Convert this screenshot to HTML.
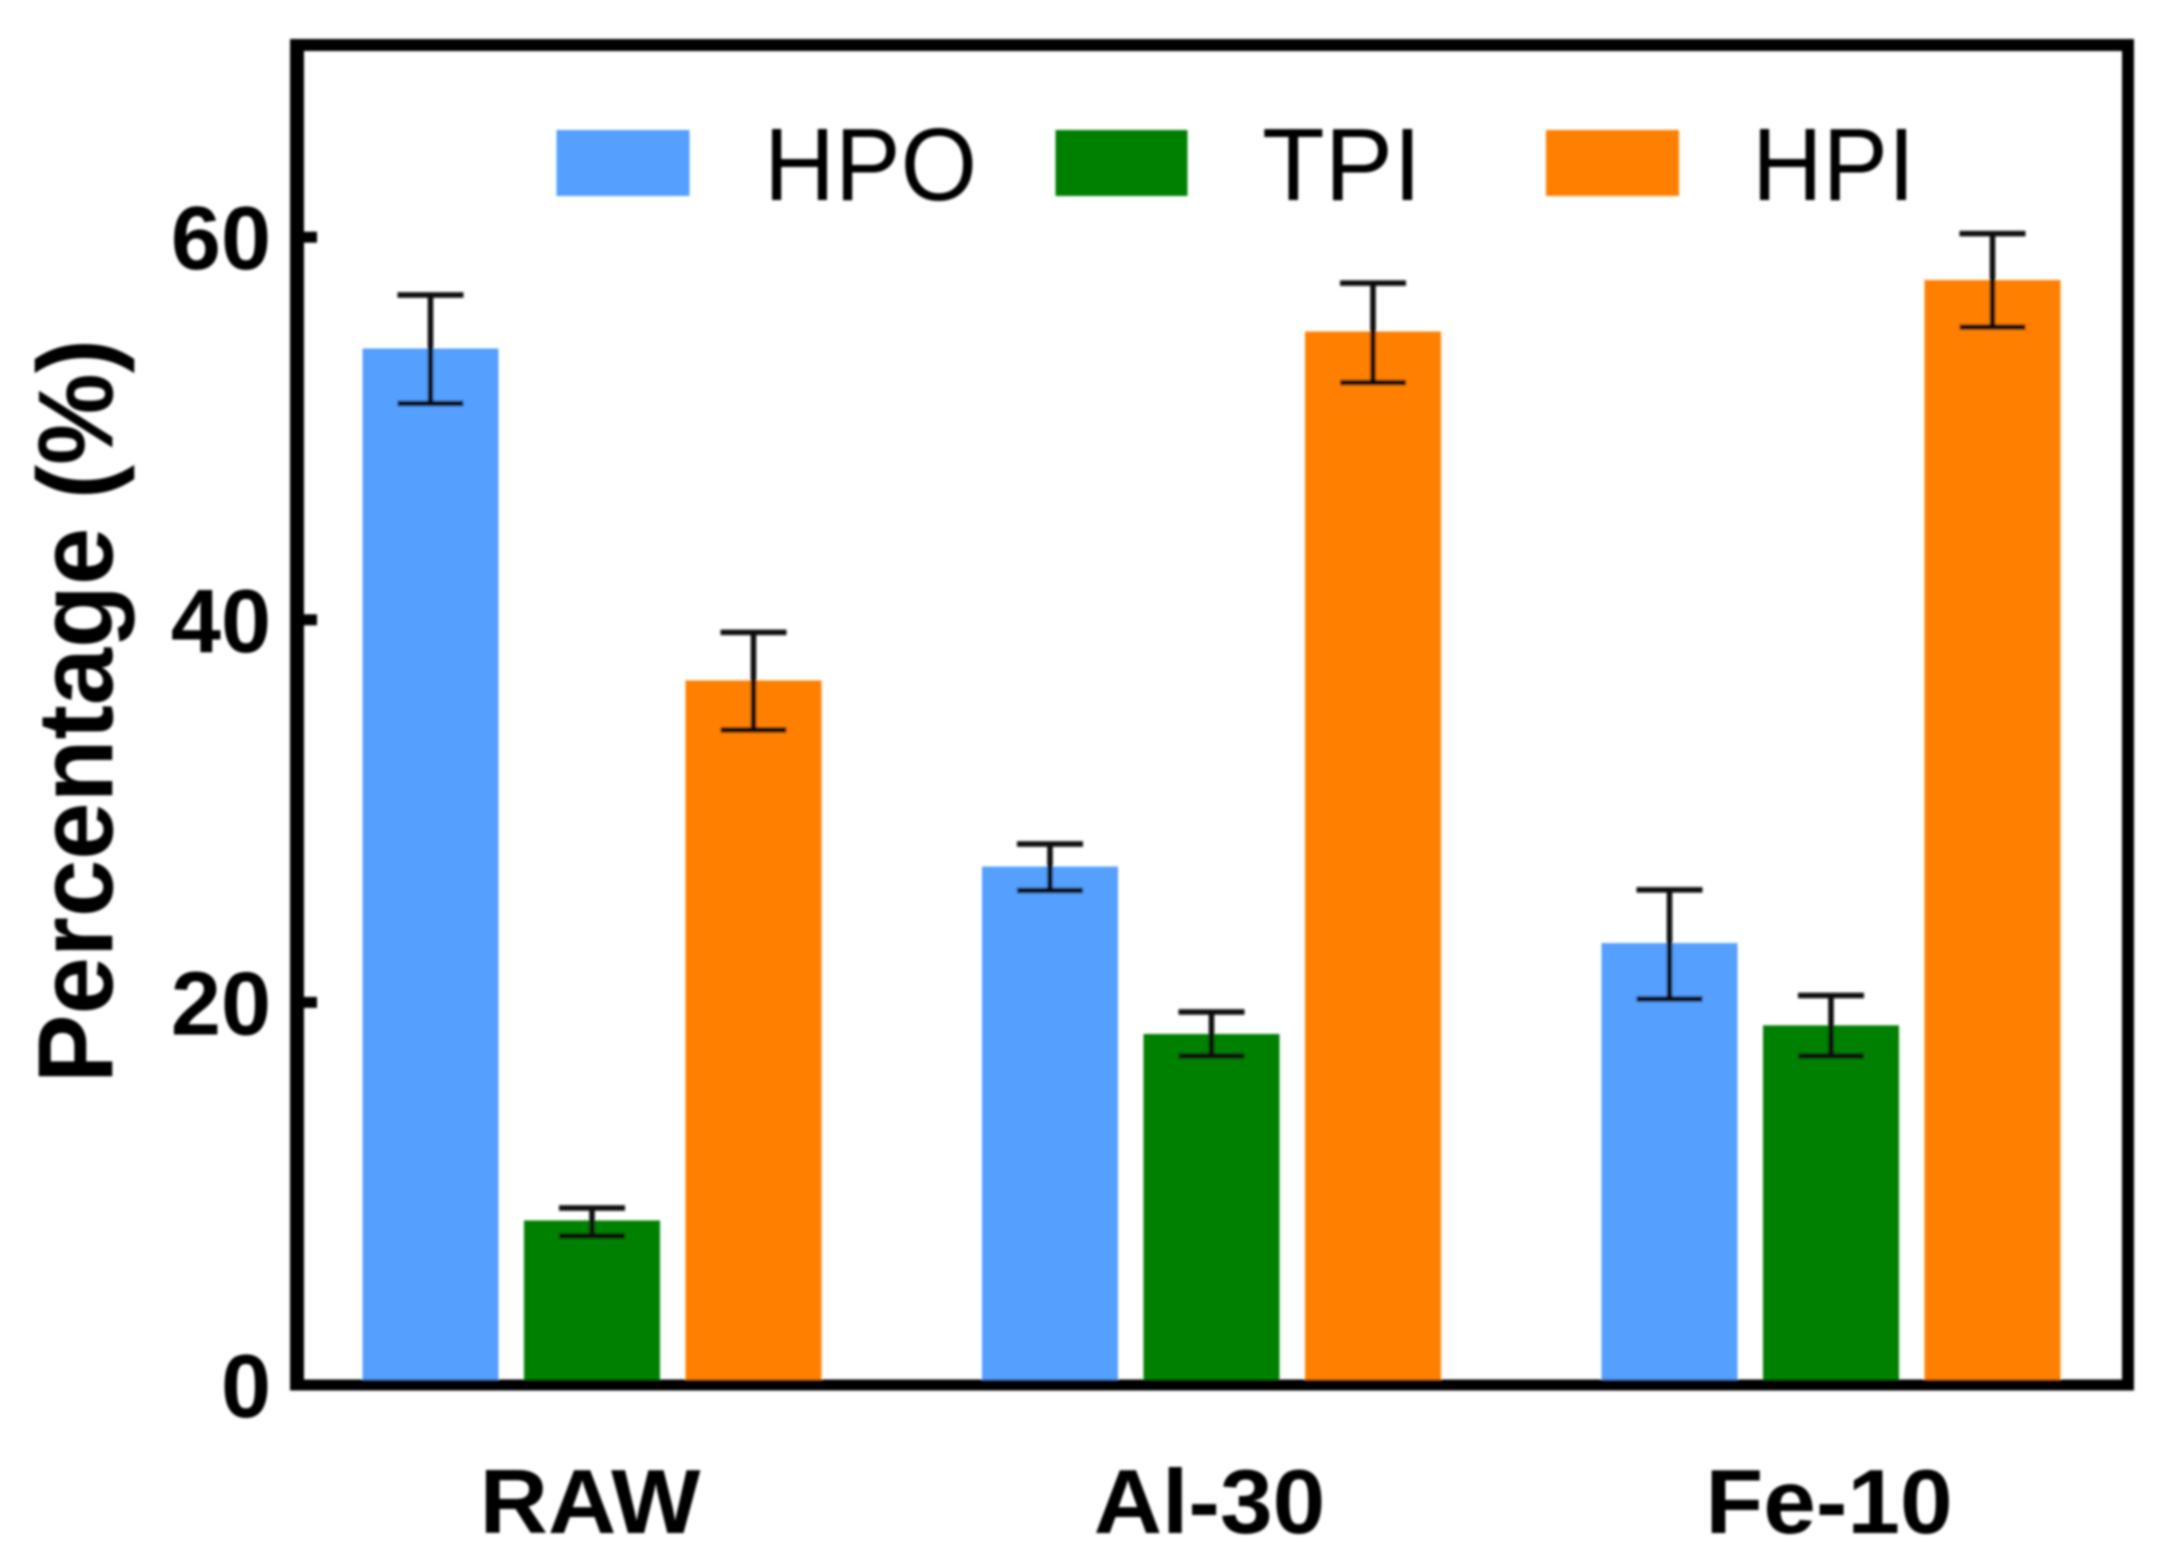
<!DOCTYPE html>
<html lang="en">
<head>
<meta charset="utf-8">
<title>Percentage by fraction</title>
<style>
  html, body { margin: 0; padding: 0; background: #fff; }
  svg { display: block; }
  text { font-family: "Liberation Sans", sans-serif; fill: #000; }
  .bold { font-weight: 700; }
</style>
</head>
<body>
<svg id="chart" xmlns="http://www.w3.org/2000/svg" width="2168" height="1568" viewBox="0 0 2168 1568">
  <defs>
    <filter id="soft" x="-2%" y="-2%" width="104%" height="104%"><feGaussianBlur stdDeviation="1.2"/></filter>
  </defs>
  <rect width="2168" height="1568" fill="#ffffff"/>
  <g id="root" filter="url(#soft)">
    <g id="bars"></g>
    <g id="errors"></g>
    <g fill="#000">
      <rect x="290" y="39" width="14" height="1351.5"/>
      <rect x="290" y="39" width="1844" height="12"/>
      <rect x="2122" y="39" width="12" height="1351.5"/>
      <rect x="290" y="1379.5" width="1844" height="11"/>
    </g>
    <g id="yticks"></g>
    <g id="xlabels"></g>
    <text class="bold" font-size="103" text-anchor="middle" transform="translate(112 711) rotate(-90) scale(1 1.04)">Percentage (%)</text>
    <g>
      <g>
        <rect x="556.5" y="130" width="133" height="66" fill="#559fff"/>
        <text font-size="95" transform="translate(764 200) scale(1.035 1.08)">HPO</text>
      </g>
      <g>
        <rect x="1055.5" y="130" width="132" height="66" fill="#028000"/>
        <text font-size="95" transform="translate(1262 200) scale(1.08 1.08)">TPI</text>
      </g>
      <g>
        <rect x="1546" y="130" width="133" height="66" fill="#ff8000"/>
        <text font-size="95" transform="translate(1752 200) scale(1.03 1.08)">HPI</text>
      </g>
    </g>
  </g>
</svg>
<script>
const categories = ["RAW", "Al-30", "Fe-10"];
const seriesNames = ["HPO", "TPI", "HPI"];
const seriesColors = ["#559fff", "#028000", "#ff8000"];
const hpoValues = [54.18, 27.1, 23.1];
const tpiValues = [8.6, 18.35, 18.8];
const hpiValues = [36.83, 55.07, 57.76];
const hpoUpper = [56.98, 28.28, 25.88];
const tpiUpper = [9.25, 19.5, 20.36];
const hpiUpper = [39.34, 57.6, 60.19];
const hpoLower = [51.31, 25.85, 20.18];
const tpiLower = [7.79, 17.2, 17.2];
const hpiLower = [34.24, 52.4, 55.3];
const yTickValues = [0, 20, 40, 60];

const seriesValues = [hpoValues, tpiValues, hpiValues];
const seriesUpper = [hpoUpper, tpiUpper, hpiUpper];
const seriesLower = [hpoLower, tpiLower, hpiLower];

const NS = "http://www.w3.org/2000/svg";
function yScale(v) { return 1385 - v * 19.13; }
function xCategory(c) { return 592 + c * 619.5; }
function xBar(c, s) { return xCategory(c) + (s - 1) * 161.5; }
function make(tag, attrs, parent) {
  const el = document.createElementNS(NS, tag);
  for (const k in attrs) el.setAttribute(k, attrs[k]);
  parent.appendChild(el);
  return el;
}

const barsGroup = document.getElementById("bars");
const errorsGroup = document.getElementById("errors");
const yticksGroup = document.getElementById("yticks");
const xlabelsGroup = document.getElementById("xlabels");
const barWidth = 136;
const capWidth = 66;

seriesValues.forEach(function (vals, s) {
  vals.forEach(function (v, c) {
    const key = seriesNames[s].toLowerCase() + "-" + categories[c].toLowerCase();
    const cx = xBar(c, s);
    const bar = make("rect", { x: cx - barWidth / 2, y: yScale(v), width: barWidth, height: yScale(0) - yScale(v), fill: seriesColors[s] }, barsGroup);
    
    

    const top = yScale(seriesUpper[s][c]);
    const bottom = yScale(seriesLower[s][c]);
    const err = make("g", { stroke: "#0a0a0a", "stroke-width": 5.5, fill: "none" }, errorsGroup);
    
    
    make("line", { x1: cx, x2: cx, y1: top, y2: bottom }, err);
    make("line", { x1: cx - capWidth / 2, x2: cx + capWidth / 2, y1: top, y2: top }, err);
    make("line", { x1: cx - capWidth / 2, x2: cx + capWidth / 2, y1: bottom, y2: bottom }, err);
  });
});

yTickValues.forEach(function (t) {
  const y = yScale(t);
  const mark = make("rect", { x: 300, y: y - 5.5, width: 17, height: 11, fill: "#000" }, yticksGroup);
  
  
  const label = make("text", { x: 271, y: y + 32, "font-size": 90, "text-anchor": "end", "class": "bold" }, yticksGroup);
  
  
  label.textContent = String(t);
});

categories.forEach(function (name, c) {
  const label = make("text", { "font-size": 91, "text-anchor": "middle", "class": "bold", transform: "translate(" + (xCategory(c) - 2) + " 1533) scale(1.04 1)" }, xlabelsGroup);
  
  
  label.textContent = name;
});
</script>
</body>
</html>
